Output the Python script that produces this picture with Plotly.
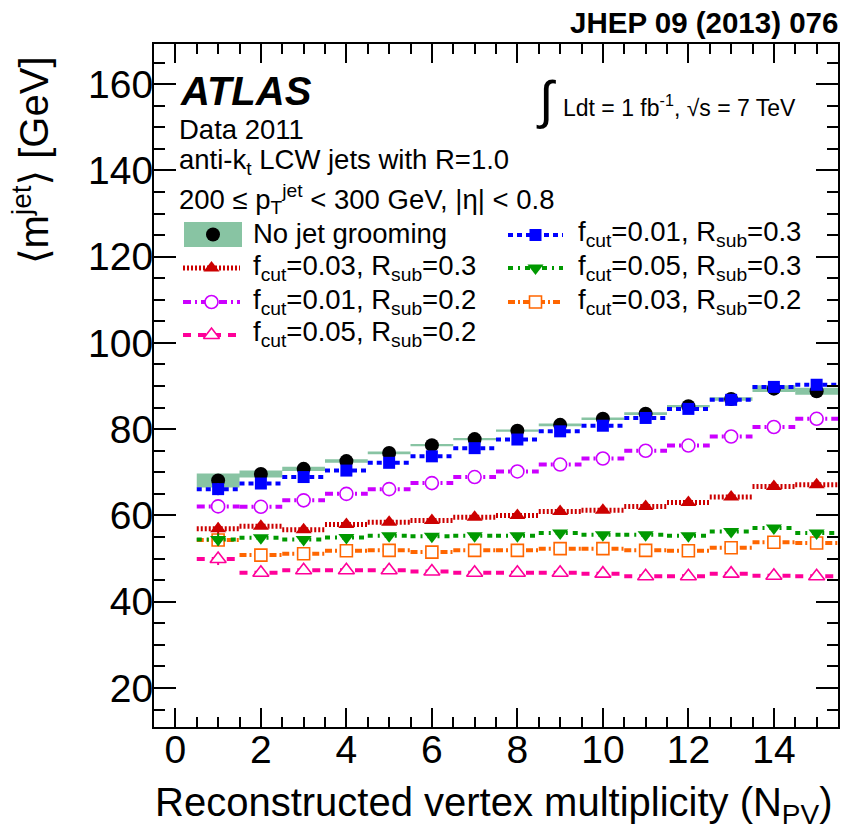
import plotly.graph_objects as go

# ---------------- data ----------------
npv = [1, 2, 3, 4, 5, 6, 7, 8, 9, 10, 11, 12, 13, 14, 15]

no_groom = [68.1, 69.6, 70.8, 72.6, 74.5, 76.3, 77.7, 79.65, 81.0, 82.4, 83.6, 85.3, 87.0, 89.4, 88.8]
no_groom_band = [1.6, 0.8, 0.5, 0.4, 0.3, 0.25, 0.25, 0.25, 0.3, 0.3, 0.3, 0.3, 0.4, 0.8, 0.8]

f001_r03 = [66.1, 67.4, 68.9, 70.4, 72.2, 73.7, 75.6, 77.6, 79.5, 80.8, 82.6, 84.7, 86.8, 89.8, 90.3]
f001_r02 = [62.1, 62.0, 63.5, 65.0, 66.1, 67.5, 68.9, 70.2, 71.8, 73.2, 75.0, 76.2, 78.3, 80.5, 82.4]
f003_r03 = [56.9, 57.5, 56.7, 57.9, 58.4, 58.8, 59.6, 60.0, 60.9, 61.2, 62.1, 63.0, 64.3, 66.7, 67.1]
f005_r03 = [54.4, 54.8, 54.4, 54.9, 55.3, 55.2, 55.3, 55.3, 55.9, 55.5, 55.5, 55.3, 56.3, 57.1, 55.9]
f003_r02 = [54.3, 50.8, 51.1, 51.8, 51.9, 51.5, 51.9, 51.9, 52.3, 52.3, 51.9, 51.8, 52.5, 53.8, 53.6]
f005_r02 = [49.9, 46.7, 47.3, 47.3, 47.3, 47.0, 46.7, 46.7, 46.7, 46.5, 45.9, 45.9, 46.5, 46.0, 45.9]

err_generic = [1.4, 0.5, 0.4, 0.3, 0.3, 0.3, 0.3, 0.3, 0.3, 0.3, 0.3, 0.3, 0.4, 0.5, 0.6]

x_ticks = [0, 2, 4, 6, 8, 10, 12, 14]
y_ticks = [20, 40, 60, 80, 100, 120, 140, 160]

# ---------------- geometry ----------------
W, H = 841, 833
L, R, T, B = 154, 838, 44, 727
FONT = "Liberation Sans, Arial, Helvetica, DejaVu Sans, sans-serif"


def px(x):
    return (x - L) / (R - L)


def py(y):
    return (B - y) / (B - T)


fig = go.Figure()

# band for ungroomed
bx, by = [], []
for n, v, e in zip(npv, no_groom, no_groom_band):
    bx += [n - 0.5, n + 0.5, n + 0.5, n - 0.5, n - 0.5, None]
    by += [v - e, v - e, v + e, v + e, v - e, None]
BAND = "#88c4a3"
fig.add_trace(go.Scatter(x=bx, y=by, fill="toself", fillcolor=BAND, mode="lines",
                         line=dict(width=0, color=BAND), showlegend=False, hoverinfo="skip"))

series = [
    # name, values, color, dash, width, symbol, filled, size
    ("black", no_groom, "#000000", None, 0, "circle", True, 14),
    ("f003_r02", f003_r02, "#ff6600", "7px,3px,2px,3px", 4, "square", False, 12),
    ("f005_r02", f005_r02, "#ff0099", "8px,7px", 4, "triangle-up", False, 14),
    ("f001_r02", f001_r02, "#cc00ff", "8px,4px,2px,4px", 4, "circle", False, 13),
    ("f003_r03", f003_r03, "#cc0000", "2px,2px", 5, "triangle-up", True, 14),
    ("f005_r03", f005_r03, "#009900", "5px,5px,2px,5px", 4, "triangle-down", True, 14),
    ("f001_r03", f001_r03, "#0000ff", "5px,4px", 4, "square", True, 12),
]

for name, vals, col, dash, lw, sym, filled, size in series:
    if dash is not None:
        sx, sy = [], []
        for n, v in zip(npv, vals):
            sx += [n - 0.5, n + 0.5, None]
            sy += [v, v, None]
        fig.add_trace(go.Scatter(x=sx, y=sy, mode="lines",
                                 line=dict(color=col, width=lw, dash=dash),
                                 showlegend=False, hoverinfo="skip"))
    fig.add_trace(go.Scatter(
        x=npv, y=vals, mode="markers",
        marker=dict(symbol=sym, size=size, color=col if filled else "white",
                    line=dict(color=col, width=0 if filled else 1.6)),
        error_y=dict(type="data", array=err_generic, color=col, thickness=2, width=0),
        showlegend=False, hoverinfo="skip"))

# ---------------- hand-made legend on overlay axes (pixel coords) ----------------
legend_left = [
    ("f003_r03", "f<sub>cut</sub>=0.03, R<sub>sub</sub>=0.3", 268),
    ("f001_r02", "f<sub>cut</sub>=0.01, R<sub>sub</sub>=0.2", 302),
    ("f005_r02", "f<sub>cut</sub>=0.05, R<sub>sub</sub>=0.2", 335),
]
legend_right = [
    ("f001_r03", "f<sub>cut</sub>=0.01, R<sub>sub</sub>=0.3", 235),
    ("f005_r03", "f<sub>cut</sub>=0.05, R<sub>sub</sub>=0.3", 268),
    ("f003_r02", "f<sub>cut</sub>=0.03, R<sub>sub</sub>=0.2", 302),
]
style = {s[0]: s for s in series}

annotations = []
LEG_FONT = 27.5


def leg_entry(key, text, ry, x0, x1, tx):
    name, vals, col, dash, lw, sym, filled, size = style[key]
    fig.add_trace(go.Scatter(x=[x0, x1], y=[ry, ry], mode="lines", xaxis="x2", yaxis="y2",
                             line=dict(color=col, width=lw, dash=dash),
                             showlegend=False, hoverinfo="skip"))
    fig.add_trace(go.Scatter(x=[(x0 + x1) / 2], y=[ry], mode="markers", xaxis="x2", yaxis="y2",
                             marker=dict(symbol=sym, size=size, color=col if filled else "white",
                                         line=dict(color=col, width=0 if filled else 1.6)),
                             showlegend=False, hoverinfo="skip"))
    annotations.append(dict(x=px(tx), y=py(ry - 1), xref="paper", yref="paper", text=text,
                            showarrow=False, xanchor="left", yanchor="middle",
                            font=dict(family=FONT, size=LEG_FONT, color="black")))


# No grooming entry: box + marker
fig.add_shape(type="rect", xref="paper", yref="paper", x0=px(184), x1=px(242), y0=py(247), y1=py(222),
              fillcolor=BAND, line=dict(width=0), layer="below")
fig.add_trace(go.Scatter(x=[213], y=[234.5], mode="markers", xaxis="x2", yaxis="y2",
                         marker=dict(symbol="circle", size=14, color="black"),
                         showlegend=False, hoverinfo="skip"))
annotations.append(dict(x=px(251), y=py(234), xref="paper", yref="paper", text="No jet grooming",
                        showarrow=False, xanchor="left", yanchor="middle",
                        font=dict(family=FONT, size=LEG_FONT, color="black")))
for k, t, ry in legend_left:
    leg_entry(k, t, ry, 183, 240, 251)
for k, t, ry in legend_right:
    leg_entry(k, t, ry, 508, 563, 576)

# ---------------- texts ----------------
def txt(x, y, text, size, xanchor="left", yanchor="middle", bold=False, italic=False, angle=0):
    t = text
    if bold:
        t = "<b>" + t + "</b>"
    if italic:
        t = "<i>" + t + "</i>"
    annotations.append(dict(x=px(x), y=py(y), xref="paper", yref="paper", text=t, showarrow=False,
                            xanchor=xanchor, yanchor=yanchor, textangle=angle,
                            font=dict(family=FONT, size=size, color="black")))


txt(178, 91, "ATLAS", 40, bold=True, italic=True)
txt(177, 130, "Data 2011", 27.5)
txt(177, 162, "anti-k<sub>t</sub> LCW jets with R=1.0", 27.5)
txt(177, 199, "200 ≤ p<sub>T</sub><sup>jet</sup> &lt; 300 GeV, |η| &lt; 0.8", 27.5)
txt(546, 100, "∫", 52, xanchor="center")
txt(561, 106, "Ldt = 1 fb<sup>-1</sup>, √s = 7 TeV", 23)
txt(840, 22, "JHEP 09 (2013) 076", 29.5, xanchor="right", bold=True)
txt(494, 805, "Reconstructed vertex multiplicity (N<sub>PV</sub>)", 40, xanchor="center")
txt(31, 160, "⟨m<sup>jet</sup>⟩ [GeV]", 40, xanchor="center", angle=-90)

axis_common = dict(showline=True, linecolor="black", linewidth=2, mirror="allticks",
                   ticks="inside", tickcolor="black", tickwidth=2, showgrid=False, zeroline=False,
                   tickfont=dict(family=FONT, size=39, color="black"), automargin=False)

fig.update_layout(
    width=W, height=H, autosize=False,
    margin=dict(l=L, r=W - R, t=T, b=H - B, pad=0),
    paper_bgcolor="white", plot_bgcolor="white",
    showlegend=False,
    xaxis=dict(range=[-0.5, 15.5], tickvals=x_ticks, ticklen=19, ticklabelstandoff=-13,
               minor=dict(ticks="inside", dtick=0.5, tick0=0, ticklen=10, tickcolor="black", tickwidth=2),
               **axis_common),
    yaxis=dict(range=[10.95, 169.3], tickvals=y_ticks, ticklen=22, ticklabelstandoff=-9,
               minor=dict(ticks="inside", dtick=5, tick0=0, ticklen=11, tickcolor="black", tickwidth=2),
               **axis_common),
    xaxis2=dict(overlaying="x", anchor="y2", range=[L, R], visible=False, fixedrange=True),
    yaxis2=dict(overlaying="y", anchor="x2", range=[B, T], visible=False, fixedrange=True),
    annotations=annotations,
)

fig.write_html(
    "out.html",
    config={"displayModeBar": False},
    post_script="document.body.style.margin='0';document.body.style.overflow='hidden';",
)
